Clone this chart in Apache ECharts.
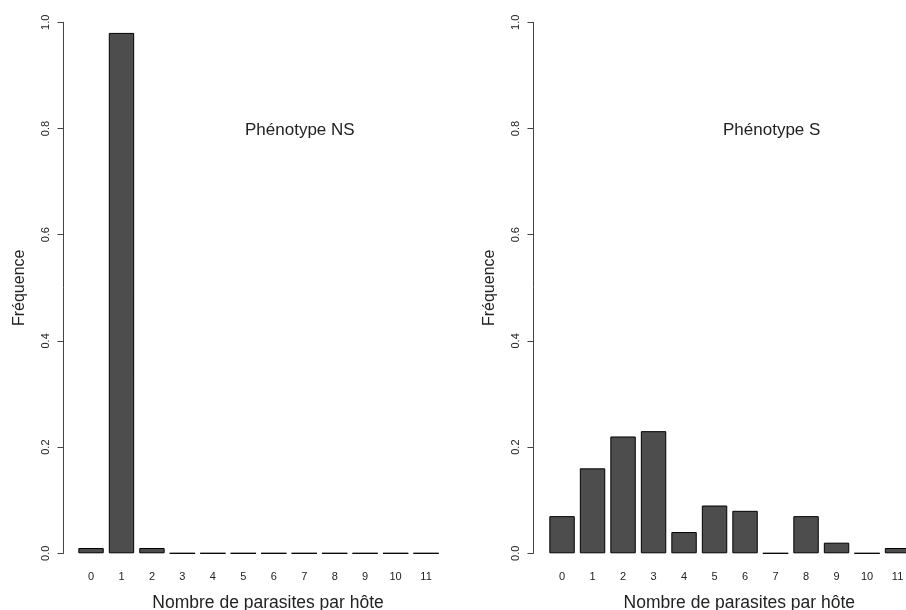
<!DOCTYPE html>
<html><head><meta charset="utf-8">
<script src="https://cdn.jsdelivr.net/npm/echarts@6/dist/echarts.min.js"></script>
<style>html,body{margin:0;padding:0;background:#fff}#c{width:906px;height:610px}</style>
</head><body><div id="c"></div>
<script>
const categories = ['0','1','2','3','4','5','6','7','8','9','10','11'];
const freqNS = [0.01, 0.98, 0.01, 0, 0, 0, 0, 0, 0, 0, 0, 0];
const freqS = [0.07, 0.16, 0.22, 0.23, 0.04, 0.09, 0.08, 0, 0.07, 0.02, 0, 0.01];
const panelTitles = ['Phénotype NS', 'Phénotype S'];
const xTitle = 'Nombre de parasites par hôte';
const yTitle = 'Fréquence';

const FONT = "'Liberation Sans', Arial, sans-serif";
const chart = echarts.init(document.getElementById('c'), null, {renderer: 'canvas'});

function xAx(i) {
  return {
    type: 'category', gridIndex: i, data: categories,
    axisLine: {show: false}, axisTick: {show: false},
    axisLabel: {margin: 18, fontSize: 11, color: '#222', fontFamily: FONT, interval: 0},
    name: xTitle, nameLocation: 'middle', nameGap: 41,
    nameTextStyle: {fontSize: 17.5, color: '#222', fontFamily: FONT, padding: [0, 0, 0, 19]}
  };
}
function yAx(i, off) {
  return {
    type: 'value', gridIndex: i, min: 0, max: 1, interval: 0.2, offset: off,
    splitLine: {show: false},
    axisLine: {show: true, lineStyle: {color: '#444', width: 1}},
    axisTick: {show: true, length: 6, lineStyle: {color: '#444'}},
    axisLabel: {rotate: 90, margin: 12, fontSize: 11, color: '#222', fontFamily: FONT,
      formatter: v => v.toFixed(1)},
    name: yTitle, nameLocation: 'middle', nameGap: 36, nameRotate: 90,
    nameTextStyle: {fontSize: 16, color: '#222', fontFamily: FONT}
  };
}
function bar(i, data) {
  return {
    type: 'bar', xAxisIndex: i, yAxisIndex: i, data: data,
    barWidth: '83.33%',
    itemStyle: {color: '#4d4d4d', borderColor: '#000', borderWidth: 1},
    silent: true, animation: false
  };
}

chart.setOption({
  animation: false,
  backgroundColor: '#fff',
  grid: [
    {left: 75.8, top: 22.3, width: 365.5, height: 531, outerBoundsMode: 'none', containLabel: false},
    {left: 546.8, top: 22.3, width: 366, height: 531, outerBoundsMode: 'none', containLabel: false}
  ],
  xAxis: [xAx(0), xAx(1)],
  yAxis: [yAx(0, 12.3), yAx(1, 13.3)],
  series: [bar(0, freqNS), bar(1, freqS)],
  graphic: [
    {type: 'text', left: 245, top: 122, style: {text: panelTitles[0], font: '17px ' + FONT, fill: '#222'}},
    {type: 'text', left: 723, top: 122, style: {text: panelTitles[1], font: '17px ' + FONT, fill: '#222'}}
  ]
});
</script></body></html>
